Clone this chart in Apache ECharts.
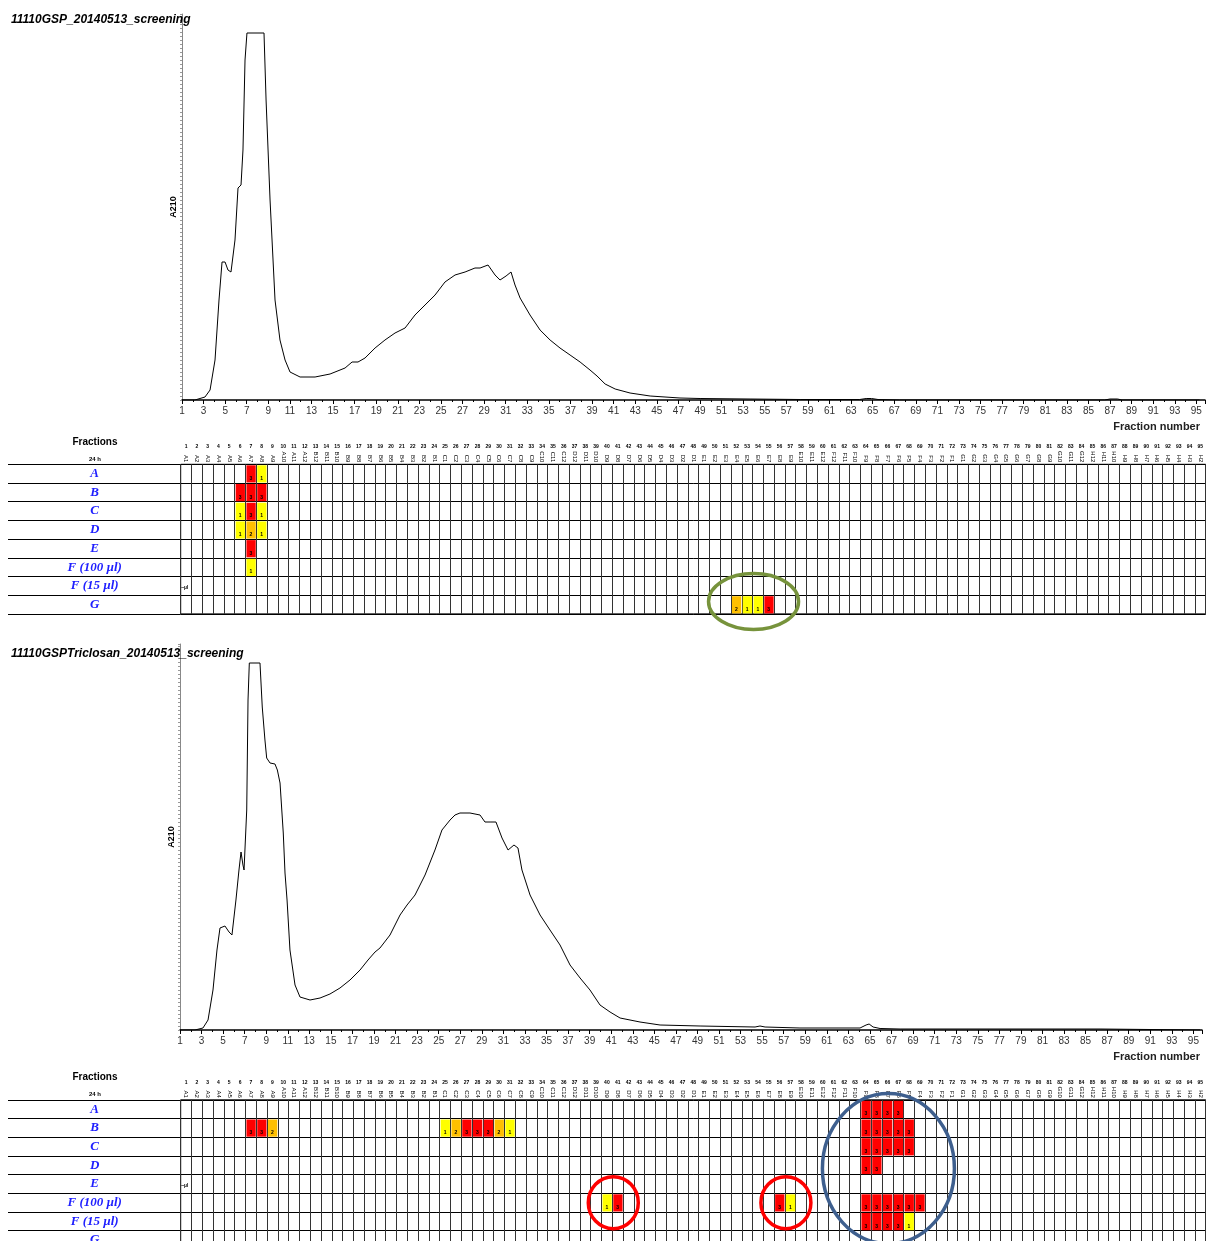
<!DOCTYPE html>
<html>
<head>
<meta charset="utf-8">
<title>11110GSP screening</title>
<script src="https://cdn.jsdelivr.net/npm/echarts@6/dist/echarts.min.js"></script>
<style>
  html, body { margin: 0; padding: 0; background: #fff; }
  #chart { width: 1206px; height: 1241px; }
</style>
</head>
<body>
<div id="chart"></div>
<script>
// A210 traces, [fraction, A210] (arbitrary units, flat top = detector limit)
const traceGSP = [
  [1, 0], [2.2, 0], [3.13, 3], [3.6, 10], [4.06, 40], [4.43, 100], [4.71, 138], [4.99, 138],
  [5.26, 130], [5.54, 128], [5.91, 160], [6.19, 212], [6.47, 215], [6.65, 250], [6.84, 340],
  [7.02, 367], [8.6, 367], [8.79, 300], [9.16, 200], [9.62, 100], [10.08, 60], [10.55, 40],
  [11.01, 28], [11.94, 23], [13.33, 23], [14.72, 26], [16.11, 32], [16.76, 38], [17.31, 38],
  [17.96, 42], [18.89, 52], [19.81, 60], [20.74, 67], [21.67, 72], [22.59, 85], [23.52, 95],
  [24.45, 105], [25.37, 118], [26.3, 125], [27.23, 128], [28.15, 132], [28.62, 132],
  [29.36, 135], [30.01, 125], [30.47, 120], [31.03, 124], [31.49, 128], [31.86, 115],
  [32.33, 102], [33.25, 85], [34.18, 70], [35.11, 60], [36.03, 52], [36.96, 45], [37.89, 38],
  [38.81, 30], [39.46, 24], [40.21, 16], [41.14, 11], [42.52, 7], [44.38, 4], [47.15, 2],
  [49.01, 1.5], [53.64, 1], [58.28, 0.5], [63.8, 0.5], [64.4, 1.5], [64.9, 1.5], [65.5, 0.5],
  [67.5, 0], [86.5, 0], [87.0, 1], [87.7, 1], [88.1, 0], [95.3, 0]
];
const traceTriclosan = [
  [1, 0], [2.39, 0], [3.13, 2], [3.6, 10], [4.06, 40], [4.43, 80], [4.71, 102], [5.17, 104],
  [5.55, 98], [5.82, 95], [6.19, 130], [6.47, 160], [6.66, 178], [6.84, 165], [6.94, 160],
  [7.19, 220], [7.31, 330], [7.43, 367], [8.42, 367], [8.63, 323], [8.88, 290], [9.04, 272],
  [9.35, 267], [9.81, 266], [10.03, 260], [10.28, 247], [10.58, 197], [10.74, 157],
  [10.93, 130], [11.2, 80], [11.67, 45], [12.13, 33], [13.06, 30], [13.99, 32], [14.91, 36],
  [15.84, 42], [16.77, 50], [17.7, 60], [18.44, 70], [19.09, 78], [19.55, 82], [20.48, 95],
  [21.41, 115], [22.06, 125], [22.8, 135], [23.73, 155], [24.65, 180], [25.3, 200],
  [26.05, 210], [26.51, 215], [26.97, 217], [27.9, 217], [28.83, 215], [29.29, 208],
  [29.76, 208], [30.31, 208], [30.87, 192], [31.43, 180], [31.98, 185], [32.35, 182],
  [32.72, 160], [33.47, 135], [34.4, 115], [35.32, 100], [36.25, 85], [37.18, 65],
  [38.11, 52], [39.03, 40], [39.96, 25], [40.89, 18], [41.82, 12], [43.67, 8], [45.53, 5],
  [49.24, 4], [54.34, 3], [54.8, 4], [55.27, 3], [58.51, 2], [64.08, 2], [64.64, 5],
  [64.92, 6], [65.29, 3], [65.94, 1.5], [67.79, 1], [86.34, 1], [95.62, 0]
];

// fraction plate layout (column labels of the screening tables)
const fractionNumbers = [];
for (let i = 1; i <= 95; i++) fractionNumbers.push(String(i));
const wellNames = ('A1 A2 A3 A4 A5 A6 A7 A8 A9 A10 A11 A12 B12 B11 B10 B9 B8 B7 B6 B5 B4 B3 B2 B1 ' +
  'C1 C2 C3 C4 C5 C6 C7 C8 C9 C10 C11 C12 D12 D11 D10 D9 D8 D7 D6 D5 D4 D3 D2 D1 ' +
  'E1 E2 E3 E4 E5 E6 E7 E8 E9 E10 E11 E12 F12 F11 F10 F9 F8 F7 F6 F5 F4 F3 F2 F1 ' +
  'G1 G2 G3 G4 G5 G6 G7 G8 G9 G10 G11 G12 H12 H11 H10 H9 H8 H7 H6 H5 H4 H3 H2').split(' ');
const testRows = ['A', 'B', 'C', 'D', 'E', 'F (100 µl)', 'F (15 µl)', 'G'];

// hits: [fraction, row index, score 1..3]
const hitsGSP = [
  [7, 0, 3], [8, 0, 1],
  [6, 1, 3], [7, 1, 3], [8, 1, 3],
  [6, 2, 1], [7, 2, 3], [8, 2, 1],
  [6, 3, 1], [7, 3, 2], [8, 3, 1],
  [7, 4, 3],
  [7, 5, 1],
  [52, 7, 2], [53, 7, 1], [54, 7, 1], [55, 7, 3]
];
const hitsTriclosan = [
  [64, 0, 3], [65, 0, 3], [66, 0, 3], [67, 0, 3],
  [7, 1, 3], [8, 1, 3], [9, 1, 2],
  [25, 1, 1], [26, 1, 2], [27, 1, 3], [28, 1, 3], [29, 1, 3], [30, 1, 2], [31, 1, 1],
  [64, 1, 3], [65, 1, 3], [66, 1, 3], [67, 1, 3], [68, 1, 3],
  [64, 2, 3], [65, 2, 3], [66, 2, 3], [67, 2, 3], [68, 2, 3],
  [64, 3, 3], [65, 3, 3],
  [40, 5, 1], [41, 5, 3], [56, 5, 3], [57, 5, 1],
  [64, 5, 3], [65, 5, 3], [66, 5, 3], [67, 5, 3], [68, 5, 3], [69, 5, 3],
  [64, 6, 3], [65, 6, 3], [66, 6, 3], [67, 6, 3], [68, 6, 1]
];

// circled regions: [first fraction, last fraction, first row, last row]
const marksGSP = [[52, 55, 7, 7]];
const marksTriclosanRed = [[40, 41, 5, 5], [56, 57, 5, 5]];
const marksTriclosanBlue = [[64, 68, 0, 7]];

// small "µl" notes in the first column: [fraction, row index]
const notesGSP = [[1, 6]];
const notesTriclosan = [[1, 4]];

const scoreColors = { 1: '#ffff00', 2: '#ffc000', 3: '#ff0000' };

const chart = echarts.init(document.getElementById('chart'));

const traceAxisX = (gridIndex) => ({
  type: 'value',
  gridIndex,
  min: 1,
  max: 95.8,
  interval: 2,
  axisLine: { lineStyle: { color: '#000', width: 1.5 } },
  axisTick: { length: 4, lineStyle: { color: '#000' } },
  minorTick: { show: true, splitNumber: 2, length: 2, lineStyle: { color: '#000' } },
  splitLine: { show: false },
  axisLabel: {
    margin: 6,
    fontSize: 10,
    color: '#333',
    fontFamily: 'Liberation Sans',
    formatter: v => (Number.isInteger(v) ? String(v) : '')
  }
});
const traceAxisY = (gridIndex) => ({
  type: 'value',
  gridIndex,
  min: 0,
  max: 386,
  interval: 4,
  name: 'A210',
  nameLocation: 'middle',
  nameGap: 4,
  nameRotate: 90,
  nameTextStyle: { fontSize: 9, fontWeight: 'bold', color: '#000', fontFamily: 'Liberation Sans' },
  axisLine: { lineStyle: { color: '#888', width: 1 } },
  axisTick: { length: 2, lineStyle: { color: '#999' } },
  axisLabel: { show: false },
  splitLine: { show: false }
});
const wellAxis = (gridIndex) => ({
  type: 'category',
  gridIndex,
  position: 'top',
  data: wellNames,
  axisLine: { show: false },
  axisTick: { show: false },
  axisLabel: { interval: 0, rotate: 90, margin: 2, fontSize: 6, color: '#000', fontFamily: 'Liberation Sans' },
  splitLine: { show: true, interval: 0, lineStyle: { color: '#333', width: 1 } }
});
const numberAxis = (gridIndex) => ({
  type: 'category',
  gridIndex,
  position: 'top',
  data: fractionNumbers,
  axisLine: { show: false },
  axisTick: { show: false },
  axisLabel: { interval: 0, margin: 15, fontSize: 5, fontWeight: 'bold', color: '#000', fontFamily: 'Liberation Sans' },
  splitLine: { show: false }
});
const rowAxis = (gridIndex) => ({
  type: 'category',
  gridIndex,
  inverse: true,
  data: testRows,
  axisLine: { show: false },
  axisTick: { show: false },
  axisLabel: {
    interval: 0,
    margin: 86,
    align: 'center',
    fontSize: 13,
    fontWeight: 'bold',
    fontStyle: 'italic',
    fontFamily: 'Liberation Serif',
    color: '#2020ff'
  },
  splitLine: { show: true, interval: 0, lineStyle: { color: '#000', width: 1 } }
});
const labelColAxisY = (gridIndex) => ({
  type: 'category',
  gridIndex,
  inverse: true,
  data: testRows,
  axisLine: { show: false },
  axisTick: { show: false },
  axisLabel: { show: false },
  splitLine: { show: true, interval: 0, lineStyle: { color: '#000', width: 1 } }
});

const cellSeries = (xAxisIndex, yAxisIndex, hits) => ({
  type: 'custom',
  xAxisIndex,
  yAxisIndex,
  data: hits.map(h => [h[0] - 1, h[1], h[2]]),
  renderItem: (params, api) => {
    const c = api.coord([api.value(0), api.value(1)]);
    const s = api.size([1, 1]);
    const score = api.value(2);
    return {
      type: 'group',
      children: [
        {
          type: 'rect',
          shape: { x: c[0] - s[0] / 2 + 1, y: c[1] - s[1] / 2 + 1, width: s[0] - 1.5, height: s[1] - 1.5 },
          style: { fill: scoreColors[score] }
        },
        {
          type: 'text',
          style: {
            text: String(score),
            x: c[0],
            y: c[1] + s[1] / 2 - 2,
            align: 'center',
            verticalAlign: 'bottom',
            font: 'bold 5px Liberation Sans',
            fill: '#000'
          }
        }
      ]
    };
  }
});

const noteSeries = (xAxisIndex, yAxisIndex, notes) => ({
  type: 'custom',
  xAxisIndex,
  yAxisIndex,
  data: notes.map(n => [n[0] - 1, n[1]]),
  renderItem: (params, api) => {
    const c = api.coord([api.value(0), api.value(1)]);
    const s = api.size([1, 1]);
    return {
      type: 'text',
      style: {
        text: '\u2012µl',
        x: c[0] - s[0] / 2 + 0.5,
        y: c[1] + 2,
        align: 'left',
        verticalAlign: 'middle',
        font: 'bold 5px Liberation Sans',
        fill: '#000'
      }
    };
  }
});

const gridBase = { outerBoundsMode: 'none', containLabel: false };

chart.setOption({
  animation: false,
  title: [
    {
      text: '11110GSP_20140513_screening',
      left: 6, top: 9,
      textStyle: { fontSize: 12, fontWeight: 'bold', fontStyle: 'italic', color: '#000', fontFamily: 'Liberation Sans' }
    },
    {
      text: '11110GSPTriclosan_20140513_screening',
      left: 6, top: 643,
      textStyle: { fontSize: 12, fontWeight: 'bold', fontStyle: 'italic', color: '#000', fontFamily: 'Liberation Sans' }
    }
  ],
  grid: [
    Object.assign({ left: 182, top: 14, width: 1023, height: 386 }, gridBase),
    Object.assign({ left: 180.7, top: 464.3, width: 1025, height: 149.6, show: true, borderColor: '#000', borderWidth: 1 }, gridBase),
    Object.assign({ left: 8, top: 464.3, width: 172.7, height: 149.6 }, gridBase),
    Object.assign({ left: 180, top: 644, width: 1022, height: 386 }, gridBase),
    Object.assign({ left: 180.7, top: 1099.8, width: 1025, height: 149.6, show: true, borderColor: '#000', borderWidth: 1 }, gridBase),
    Object.assign({ left: 8, top: 1099.8, width: 172.7, height: 149.6 }, gridBase)
  ],
  xAxis: [
    traceAxisX(0),
    wellAxis(1),
    numberAxis(1),
    { type: 'value', gridIndex: 2, show: false },
    traceAxisX(3),
    wellAxis(4),
    numberAxis(4),
    { type: 'value', gridIndex: 5, show: false }
  ],
  yAxis: [
    traceAxisY(0),
    rowAxis(1),
    labelColAxisY(2),
    traceAxisY(3),
    rowAxis(4),
    labelColAxisY(5)
  ],
  graphic: [
    { type: 'text', right: 6, top: 421, style: { text: 'Fraction number', font: 'bold 11px Liberation Sans', fill: '#222' } },
    { type: 'text', right: 6, top: 1051, style: { text: 'Fraction number', font: 'bold 11px Liberation Sans', fill: '#222' } },
    { type: 'text', x: 95, y: 442, style: { text: 'Fractions', font: 'bold 10px Liberation Sans', fill: '#000', align: 'center', verticalAlign: 'middle' } },
    { type: 'text', x: 95, y: 459, style: { text: '24 h', font: 'bold 6px Liberation Sans', fill: '#000', align: 'center', verticalAlign: 'middle' } },
    { type: 'text', x: 95, y: 1077, style: { text: 'Fractions', font: 'bold 10px Liberation Sans', fill: '#000', align: 'center', verticalAlign: 'middle' } },
    { type: 'text', x: 95, y: 1094, style: { text: '24 h', font: 'bold 6px Liberation Sans', fill: '#000', align: 'center', verticalAlign: 'middle' } }
  ],
  series: [
    {
      type: 'line', xAxisIndex: 0, yAxisIndex: 0, data: traceGSP,
      showSymbol: false, lineStyle: { color: '#000', width: 1 }
    },
    {
      type: 'line', xAxisIndex: 4, yAxisIndex: 3, data: traceTriclosan,
      showSymbol: false, lineStyle: { color: '#000', width: 1 }
    },
    cellSeries(1, 1, hitsGSP),
    cellSeries(5, 4, hitsTriclosan),
    noteSeries(1, 1, notesGSP),
    noteSeries(5, 4, notesTriclosan)
  ]
});

// rings drawn around the hit regions, centred through the table axes
function ring(xAxisIndex, yAxisIndex, m, rx, ry, dy, color) {
  const a = chart.convertToPixel({ xAxisIndex, yAxisIndex }, [m[0] - 1, m[2]]);
  const b = chart.convertToPixel({ xAxisIndex, yAxisIndex }, [m[1] - 1, m[3]]);
  return {
    type: 'ellipse',
    shape: { cx: (a[0] + b[0]) / 2 + 1, cy: (a[1] + b[1]) / 2 + dy, rx, ry },
    style: { fill: 'none', stroke: color, lineWidth: 3.5 },
    z: 100
  };
}
const rings = [];
marksGSP.forEach(m => rings.push(ring(1, 1, m, 45, 28, -3, '#77933c')));
marksTriclosanRed.forEach(m => rings.push(ring(5, 4, m, 25, 26, 0, '#ff0000')));
marksTriclosanBlue.forEach(m => rings.push(ring(5, 4, m, 66, 75, -6, '#3e5f8e')));
chart.setOption({ graphic: rings.map((r, i) => Object.assign({ id: 'ring' + i }, r)) });
</script>
</body>
</html>
